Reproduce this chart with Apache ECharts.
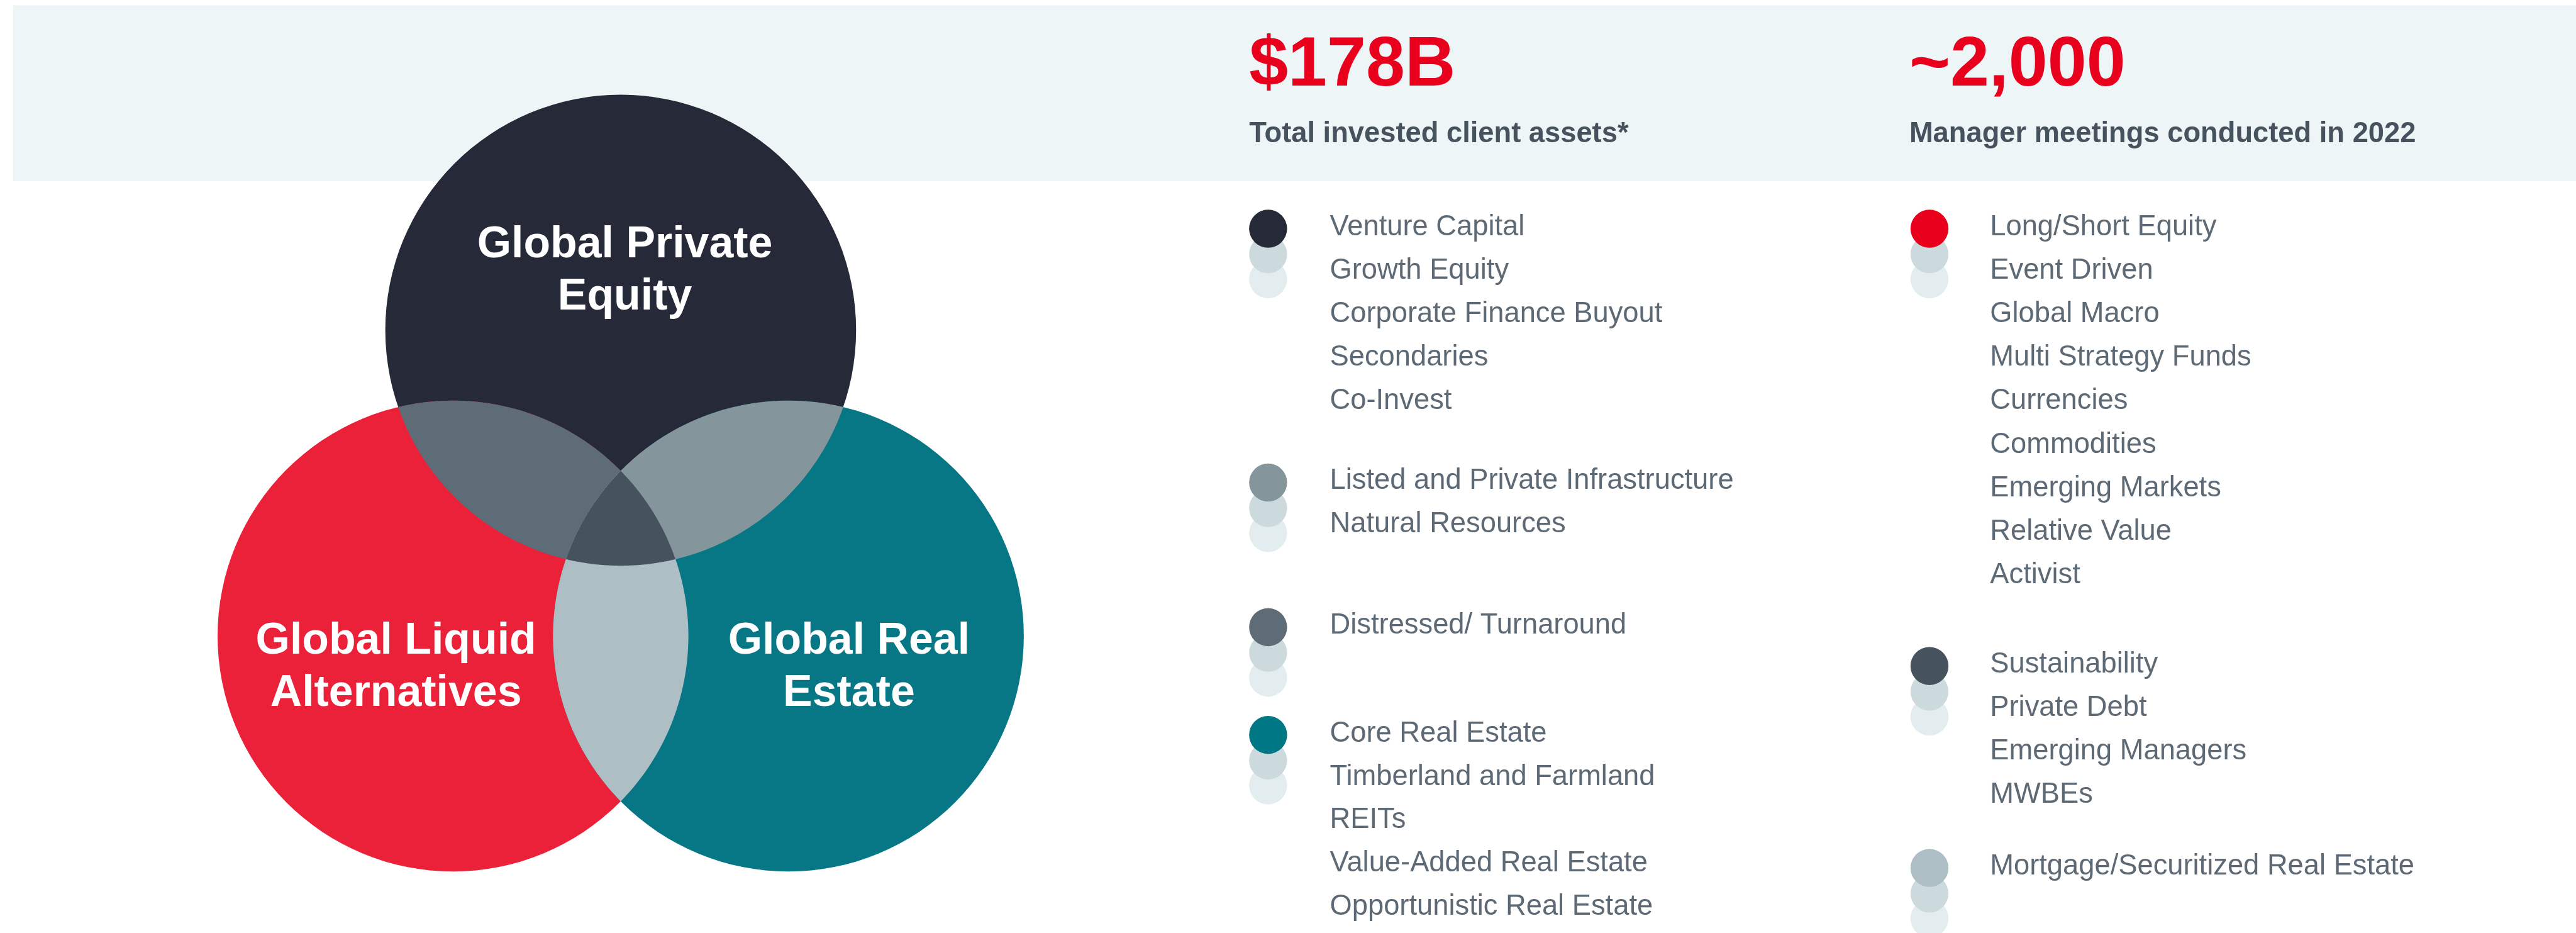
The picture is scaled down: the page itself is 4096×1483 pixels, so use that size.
<!DOCTYPE html>
<html>
<head>
<meta charset="UTF-8">
<title></title>
<script src="https://cdn.jsdelivr.net/npm/echarts@6/dist/echarts.min.js"></script>
<style>
  html, body { margin: 0; padding: 0; background: #fff; }
  #main { width: 4096px; height: 1483px; }
</style>
</head>
<body>
<div id="main"></div>
<script type="text/javascript">
// ---- data ----
var vennSets = ['Global Private\nEquity', 'Global Liquid\nAlternatives', 'Global Real\nEstate'];
var headlineValues = ['$178B', '~2,000'];
var headlineLabels = ['Total invested client assets*', 'Manager meetings conducted in 2022'];

var leftGroups = [
  ['Venture Capital', 'Growth Equity', 'Corporate Finance Buyout', 'Secondaries', 'Co-Invest'],
  ['Listed and Private Infrastructure', 'Natural Resources'],
  ['Distressed/ Turnaround'],
  ['Core Real Estate', 'Timberland and Farmland', 'REITs', 'Value-Added Real Estate', 'Opportunistic Real Estate']
];
var rightGroups = [
  ['Long/Short Equity', 'Event Driven', 'Global Macro', 'Multi Strategy Funds', 'Currencies',
   'Commodities', 'Emerging Markets', 'Relative Value', 'Activist'],
  ['Sustainability', 'Private Debt', 'Emerging Managers', 'MWBEs'],
  ['Mortgage/Securitized Real Estate']
];

// ---- colours ----
var vennColors = ['#252938', '#EA2139', '#077785'];
var pairColors = { '0-1': '#5E6C78', '0-2': '#84959B', '1-2': '#ADBFC4' };
var tripleColor = '#46525E';
var leftBulletColors = ['#252938', '#84959B', '#5E6C78', '#007785'];
var rightBulletColors = ['#E8001C', '#46525E', '#ADBFC4'];
var bulletShadeColors = ['#CCDADD', '#E3ECEE'];

// ---- layout (reference pixel units, 4339 x 1571) ----
var REF_W = 4339, REF_H = 1571;
var band = { x0: 22, y0: 9, x1: 4339, y1: 305, color: '#EDF5F7' };
var venn = {
  centers: [[1045.5, 556], [763, 1071], [1328, 1071]],
  r: 396.5,
  labelOffset: [[7, -104], [-96, 48], [102, 48]]
};
var headCols = [2104, 3216];
var leftCol = { textX: 2240, bulletX: 2136, groupTop: [394.6, 822, 1065.6, 1247], step: 73 };
var rightCol = { textX: 3352, bulletX: 3250, groupTop: [394.6, 1131, 1471], step: 73.2 };
var NUDGE = 5;   // baseline -> middle correction

var FONT = '"Liberation Sans", Arial, Helvetica, sans-serif';

var myChart = echarts.init(document.getElementById('main'));
var S = myChart.getWidth() / REF_W;

// geometry helpers
function intersect(c1, c2, r) {
  var dx = c2[0] - c1[0], dy = c2[1] - c1[1];
  var d = Math.sqrt(dx * dx + dy * dy);
  var h = Math.sqrt(r * r - d * d / 4);
  var mx = c1[0] + dx / 2, my = c1[1] + dy / 2;
  return [[mx - h * dy / d, my + h * dx / d], [mx + h * dy / d, my - h * dx / d]];
}
function arc(c, r, p1, p2, n) {
  var a1 = Math.atan2(p1[1] - c[1], p1[0] - c[0]);
  var a2 = Math.atan2(p2[1] - c[1], p2[0] - c[0]);
  var da = a2 - a1;
  while (da > Math.PI) da -= 2 * Math.PI;
  while (da < -Math.PI) da += 2 * Math.PI;
  var pts = [];
  for (var i = 0; i <= n; i++) {
    var a = a1 + da * i / n;
    pts.push([c[0] + r * Math.cos(a), c[1] + r * Math.sin(a)]);
  }
  return pts;
}
function dist(p, c) { return Math.sqrt((p[0] - c[0]) * (p[0] - c[0]) + (p[1] - c[1]) * (p[1] - c[1])); }
function innerPoint(i, j, k) {
  var ps = intersect(venn.centers[i], venn.centers[j], venn.r);
  return dist(ps[0], venn.centers[k]) < dist(ps[1], venn.centers[k]) ? ps[0] : ps[1];
}

// venn regions: circles, pair lenses, triple centre
var C = venn.centers, R = venn.r;
var vennRegions = [];
vennSets.forEach(function (name, i) {
  vennRegions.push({ kind: 'circle', c: C[i], color: vennColors[i] });
});
[[0, 1], [0, 2], [1, 2]].forEach(function (p) {
  var ps = intersect(C[p[0]], C[p[1]], R);
  var pts = arc(C[p[0]], R, ps[0], ps[1], 80).concat(arc(C[p[1]], R, ps[1], ps[0], 80));
  vennRegions.push({ kind: 'poly', pts: pts, color: pairColors[p[0] + '-' + p[1]] });
});
(function () {
  var v01 = innerPoint(0, 1, 2), v02 = innerPoint(0, 2, 1), v12 = innerPoint(1, 2, 0);
  var pts = arc(C[0], R, v01, v02, 60)
    .concat(arc(C[2], R, v02, v12, 60))
    .concat(arc(C[1], R, v12, v01, 60));
  vennRegions.push({ kind: 'poly', pts: pts, color: tripleColor });
})();

// text items
var texts = [];
vennSets.forEach(function (name, i) {
  texts.push({ x: C[i][0] + venn.labelOffset[i][0], y: C[i][1] + venn.labelOffset[i][1] + NUDGE,
    text: name, size: 74, weight: 'bold', color: '#FFFFFF', align: 'center', lineHeight: 88 });
});
headlineValues.forEach(function (v, i) {
  texts.push({ x: headCols[i], y: 147.7 - 0.3465 * 118 + NUDGE, text: v, size: 118, weight: 'bold', color: '#E9001D', align: 'left' });
  texts.push({ x: headCols[i], y: 238 - 0.3465 * 48 + NUDGE, text: headlineLabels[i], size: 48, weight: 'bold', color: '#46525E', align: 'left' });
});

var bullets = [[], [], []];
function addColumn(groups, col, colors) {
  groups.forEach(function (items, g) {
    var base = col.groupTop[g];
    items.forEach(function (label, k) {
      var bl = base + k * col.step;
      texts.push({ x: col.textX, y: bl - 0.3465 * 48 + NUDGE, text: label, size: 48, weight: 'normal', color: '#5D6A75', align: 'left' });
    });
    var cy = base - 9.5;
    bullets[0].push({ value: [col.bulletX, cy + 85], itemStyle: { color: bulletShadeColors[1] } });
    bullets[1].push({ value: [col.bulletX, cy + 43], itemStyle: { color: bulletShadeColors[0] } });
    bullets[2].push({ value: [col.bulletX, cy], itemStyle: { color: colors[g] } });
  });
}
addColumn(leftGroups, leftCol, leftBulletColors);
addColumn(rightGroups, rightCol, rightBulletColors);

function bulletSeries(name, z, data) {
  return {
    name: name, type: 'scatter', silent: true, z: z,
    symbol: 'circle', symbolSize: 64 * S,
    itemStyle: { opacity: 1 },
    data: data
  };
}

var option = {
  animation: false,
  backgroundColor: '#FFFFFF',
  grid: { left: 0, right: 0, top: 0, bottom: 0 },
  xAxis: { type: 'value', min: 0, max: REF_W, show: false },
  yAxis: { type: 'value', min: 0, max: REF_H, inverse: true, show: false },
  series: [
    {
      name: 'band', type: 'custom', silent: true, z: 1,
      data: [[band.x0, band.y0]],
      renderItem: function (params, api) {
        var p0 = api.coord([band.x0, band.y0]);
        var p1 = api.coord([band.x1, band.y1]);
        return { type: 'rect', shape: { x: p0[0], y: p0[1], width: p1[0] - p0[0], height: p1[1] - p0[1] },
          style: { fill: band.color } };
      }
    },
    {
      name: 'venn', type: 'custom', silent: true, z: 2,
      data: vennRegions.map(function (r, i) { return [i, i]; }),
      renderItem: function (params, api) {
        var reg = vennRegions[params.dataIndex];
        if (reg.kind === 'circle') {
          var c = api.coord(reg.c);
          return { type: 'circle', z2: 1, shape: { cx: c[0], cy: c[1], r: api.size([R, 0])[0] },
            style: { fill: reg.color } };
        }
        return { type: 'polygon', z2: 2 + params.dataIndex,
          shape: { points: reg.pts.map(function (p) { return api.coord(p); }) },
          style: { fill: reg.color } };
      }
    },
    bulletSeries('bulletBack', 3, bullets[0]),
    bulletSeries('bulletMid', 4, bullets[1]),
    bulletSeries('bulletMain', 5, bullets[2]),
    {
      name: 'texts', type: 'custom', silent: true, z: 6,
      data: texts.map(function (t) { return [t.x, t.y]; }),
      renderItem: function (params, api) {
        var t = texts[params.dataIndex];
        var p = api.coord([t.x, t.y]);
        return {
          type: 'text', x: p[0], y: p[1],
          style: {
            text: t.text, fill: t.color,
            fontSize: t.size * S, fontWeight: t.weight, fontFamily: FONT,
            align: t.align, verticalAlign: 'middle',
            lineHeight: (t.lineHeight || t.size * 1.2) * S
          }
        };
      }
    }
  ]
};
myChart.setOption(option);
</script>
</body>
</html>
